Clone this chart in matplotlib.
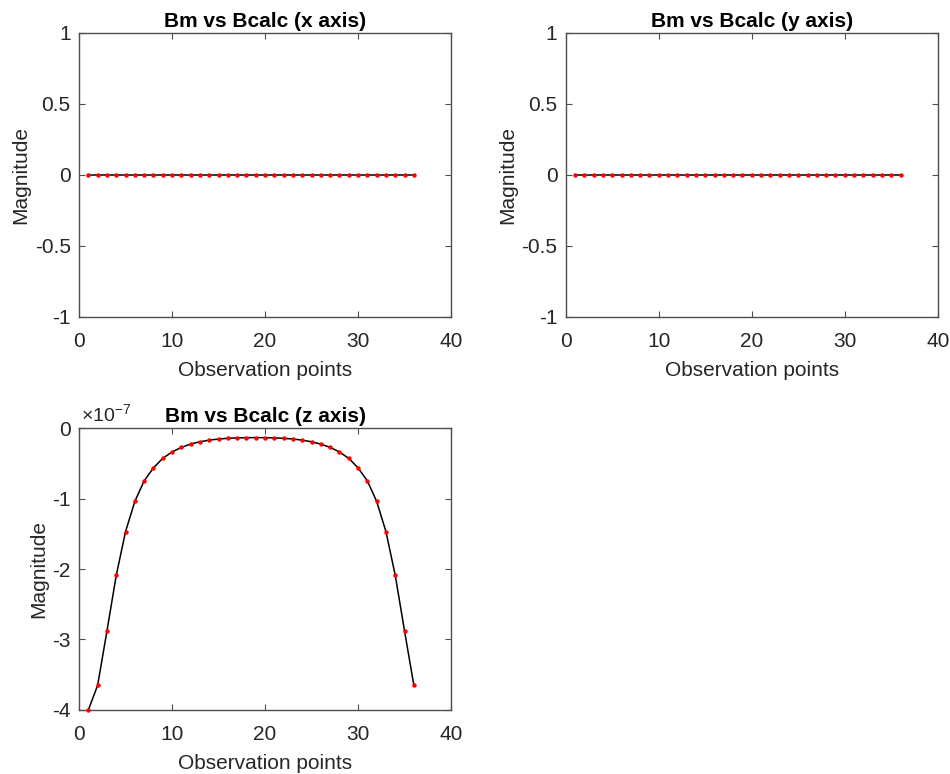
import numpy as np
import matplotlib
matplotlib.use('Agg')
import matplotlib.pyplot as plt

plt.rcParams['font.family'] = ['Liberation Sans', 'DejaVu Sans']
plt.rcParams['mathtext.fontset'] = 'custom'
plt.rcParams['mathtext.rm'] = 'Liberation Sans'
plt.rcParams['mathtext.it'] = 'Liberation Sans'
plt.rcParams['axes.unicode_minus'] = False

# observation points
obs = np.arange(1, 37)

# x and y components are zero everywhere
bx_meas = [0.0] * 36
bx_calc = [0.0] * 36
by_meas = [0.0] * 36
by_calc = [0.0] * 36

# z component
bz_meas = [-4.00e-7, -3.65e-7, -2.88e-7, -2.09e-7, -1.47e-7, -1.04e-7,
           -0.75e-7, -0.565e-7, -0.43e-7, -0.34e-7, -0.275e-7, -0.228e-7,
           -0.195e-7, -0.172e-7, -0.156e-7, -0.146e-7, -0.140e-7, -0.137e-7,
           -0.136e-7, -0.137e-7, -0.140e-7, -0.146e-7, -0.156e-7, -0.172e-7,
           -0.195e-7, -0.228e-7, -0.275e-7, -0.34e-7, -0.43e-7, -0.565e-7,
           -0.75e-7, -1.04e-7, -1.47e-7, -2.09e-7, -2.88e-7, -3.65e-7]
bz_calc = list(bz_meas)

titles = ['Bm vs Bcalc (x axis)', 'Bm vs Bcalc (y axis)', 'Bm vs Bcalc (z axis)']

grey = '#262626'
edge = '#4d4d4d'
fs = 15

fig = plt.figure(figsize=(9.5, 7.74), dpi=100)
positions = [[0.0832, 0.5908, 0.3916, 0.3669],
             [0.5955, 0.5908, 0.3916, 0.3669],
             [0.0832, 0.0827, 0.3916, 0.3643]]
series = [(bx_meas, bx_calc), (by_meas, by_calc), (bz_meas, bz_calc)]

for pos, (meas, calc), title in zip(positions, series, titles):
    ax = fig.add_axes(pos)
    ax.plot(obs, meas, color='black', lw=1.1, clip_on=False, zorder=3)
    ax.plot(obs, calc, 'o', color='#ff0000', ms=3.2, mec='none',
            clip_on=False, zorder=4)
    ax.set_xlim(0, 40)
    ax.set_xticks([0, 10, 20, 30, 40])
    ax.set_title(title, fontsize=fs, fontweight='bold', color='black', pad=4)
    ax.set_xlabel('Observation points', fontsize=fs, color=grey, labelpad=7)
    ax.set_ylabel('Magnitude', fontsize=fs, color=grey, labelpad=3)
    ax.tick_params(direction='in', top=True, right=True, length=4,
                   width=0.8, labelsize=fs, colors=edge, labelcolor=grey)
    ax.tick_params(axis='x', pad=11)
    ax.tick_params(axis='y', pad=6)
    for sp in ax.spines.values():
        sp.set_color(edge)
        sp.set_linewidth(1.0)
    if title.endswith('(z axis)'):
        # tick labels in units of 1e-7 with the exponent drawn above the axes
        ax.set_ylim(-4e-7, 0)
        yt = [-4, -3, -2, -1, 0]
        ax.set_yticks([v * 1e-7 for v in yt])
        ax.set_yticklabels([str(v) for v in yt])
        ax.text(0.005, 1.01, r'$\times10^{-7}$', transform=ax.transAxes,
                fontsize=14, color=grey, ha='left', va='bottom')
    else:
        ax.set_ylim(-1, 1)
        ax.set_yticks([-1, -0.5, 0, 0.5, 1])
        ax.set_yticklabels(['-1', '-0.5', '0', '0.5', '1'])

fig.savefig('out.png', dpi=100, facecolor='white')
